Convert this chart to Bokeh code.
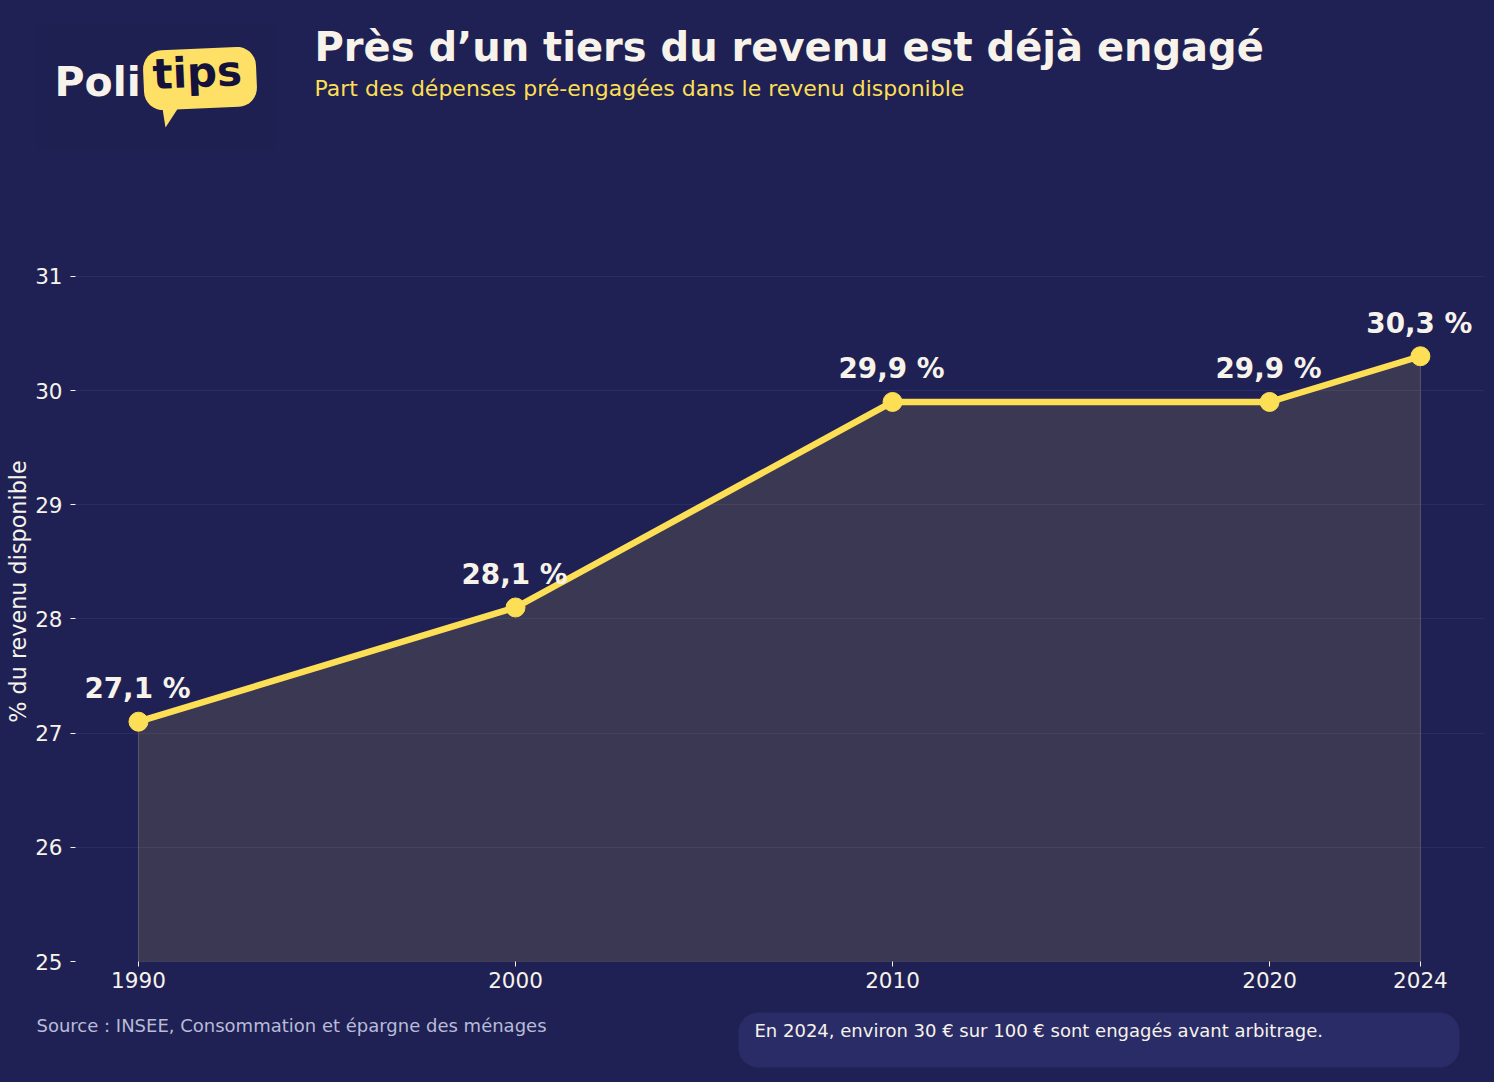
import math
from bokeh.core.properties import value
from bokeh.embed import file_html
from bokeh.layouts import column
from bokeh.resources import INLINE
from bokeh.plotting import figure
from bokeh.models import Label, BoxAnnotation, PolyAnnotation, Range1d, FixedTicker, ColumnDataSource

years = [1990, 2000, 2010, 2020, 2024]
values = [27.1, 28.1, 29.9, 29.9, 30.3]
value_labels = ["27,1 %", "28,1 %", "29,9 %", "29,9 %", "30,3 %"]
y_ticks = [25, 26, 27, 28, 29, 30, 31]
title = "Près d’un tiers du revenu est déjà engagé"
subtitle = "Part des dépenses pré-engagées dans le revenu disponible"
y_title = "% du revenu disponible"
source_text = "Source : INSEE, Consommation et épargne des ménages"
note_text = "En 2024, environ 30 € sur 100 € sont engagés avant arbitrage."

BG = "#1f2154"
YEL = "#fcdf55"
LOGO_YEL = "#ffe066"
WHITE = "#f7f3ea"
FONT = "DejaVu Sans"
W = 1494
HEAD_H, CHART_H = 221, 784
FOOT_H = 1082 - HEAD_H - CHART_H


def panel(y0, y1):
    """Decor band whose data coordinates are the page's pixels."""
    f = figure(width=W, height=y1 - y0, output_backend="svg", toolbar_location=None,
               x_range=Range1d(0, W), y_range=Range1d(y1, y0),
               background_fill_color=BG, border_fill_color=BG,
               min_border=0, x_axis_type=None, y_axis_type=None, frame_align=False)
    f.outline_line_color = None
    f.grid.visible = False
    return f


def label(f, x, y, text, size, color, style="normal", font=FONT, angle=0):
    f.add_layout(Label(x=x, y=y, text=text, text_font=font, text_font_size=size, text_color=color,
                       text_font_style=style, angle=angle, angle_units="deg", text_align="left",
                       text_baseline="alphabetic", level="overlay"))


def box(f, l, r, t, b, color, radius=0):
    f.add_layout(BoxAnnotation(left=l, right=r, top=t, bottom=b, fill_color=color, fill_alpha=1,
                               line_color=None, border_radius=radius, level="annotation"))


def poly(f, points, color):
    f.add_layout(PolyAnnotation(xs=[q[0] for q in points], ys=[q[1] for q in points],
                                fill_color=color, fill_alpha=1, line_color=None, level="annotation"))


# ---------------- header ----------------
head = panel(0, HEAD_H)
box(head, 36, 275, 25, 148, "#1e2051")
cx, cy, bw, bh, r, a = 199.5, 78, 113, 60, 19, math.radians(-2.5)
pts = []
for ccx, ccy, start in [(bw/2-r, -bh/2+r, -90), (bw/2-r, bh/2-r, 0), (-bw/2+r, bh/2-r, 90), (-bw/2+r, -bh/2+r, 180)]:
    for k in range(9):
        th = math.radians(start + k * 90 / 8)
        pts.append((ccx + r*math.cos(th), ccy + r*math.sin(th)))
pts = [(cx + u*math.cos(a) - v*math.sin(a), cy + u*math.sin(a) + v*math.cos(a)) for u, v in pts]
poly(head, pts, LOGO_YEL)
poly(head, [(162, 108), (178, 107), (165, 127)], LOGO_YEL)
label(head, 54, 81, "Poli", "41px", WHITE, "bold")
label(head, 152, 74, "tips", "42px", "#14123a", "bold", angle=2.5)
label(head, 314, 46, title, "40px", WHITE, "bold")
label(head, 314, 88, subtitle, "22px", YEL)

# ---------------- chart ----------------
p = figure(width=W, height=CHART_H, output_backend="svg", toolbar_location=None,
           x_range=Range1d(1988.33, 2025.7), y_range=Range1d(25, 31.48), frame_align=False,
           background_fill_color=BG, border_fill_color=BG,
           min_border_left=75, min_border_right=10, min_border_top=0, min_border_bottom=44)
p.outline_line_color = None
p.xgrid.visible = False
p.ygrid.grid_line_color = "#2b2d60"
p.ygrid.grid_line_width = 1
p.xaxis.ticker = FixedTicker(ticks=years)
p.yaxis.ticker = FixedTicker(ticks=y_ticks)
for ax in (p.xaxis[0], p.yaxis[0]):
    ax.axis_line_color = None
    ax.major_tick_line_color = WHITE
    ax.major_tick_out = 5
    ax.major_tick_in = 0
    ax.minor_tick_line_color = None
    ax.major_label_text_color = WHITE
    ax.major_label_text_font = FONT
    ax.major_label_text_font_size = "21.5px"
p.xaxis.major_label_standoff = 5
p.yaxis.major_label_standoff = 8
p.yaxis.axis_label = y_title
p.yaxis.axis_label_text_font = FONT
p.yaxis.axis_label_text_font_style = "normal"
p.yaxis.axis_label_text_font_size = "22.3px"
p.yaxis.axis_label_text_color = WHITE
p.yaxis.axis_label_standoff = 1

src = ColumnDataSource(dict(x=years, y=values, t=value_labels))
p.patch(years + years[::-1], values + [25] * len(years), fill_color=YEL, fill_alpha=0.125,
        line_color="#5a5768", line_width=1)
p.line("x", "y", source=src, line_color=YEL, line_width=6.5)
p.scatter("x", "y", source=src, size=19, fill_color=YEL, line_color=YEL)
p.text("x", "y", text="t", source=src, text_align="center", text_baseline="alphabetic",
       x_offset=-1, y_offset=-33, text_color=WHITE, text_font=value(FONT), text_font_style="bold",
       text_font_size="27.8px")

# ---------------- footer ----------------
foot = panel(HEAD_H + CHART_H, 1082)
box(foot, 738, 1459, 1012, 1067, "#2a2c68", 20)
label(foot, 36, 1025, source_text, "18px", "#b9bbd8")
label(foot, 754, 1030, note_text, "18px", WHITE)

page = column(head, p, foot, spacing=0)
html = file_html(page, INLINE).replace("<head>", "<head><style>html,body{background:%s}</style>" % BG, 1)
open("out.html", "w").write(html)
